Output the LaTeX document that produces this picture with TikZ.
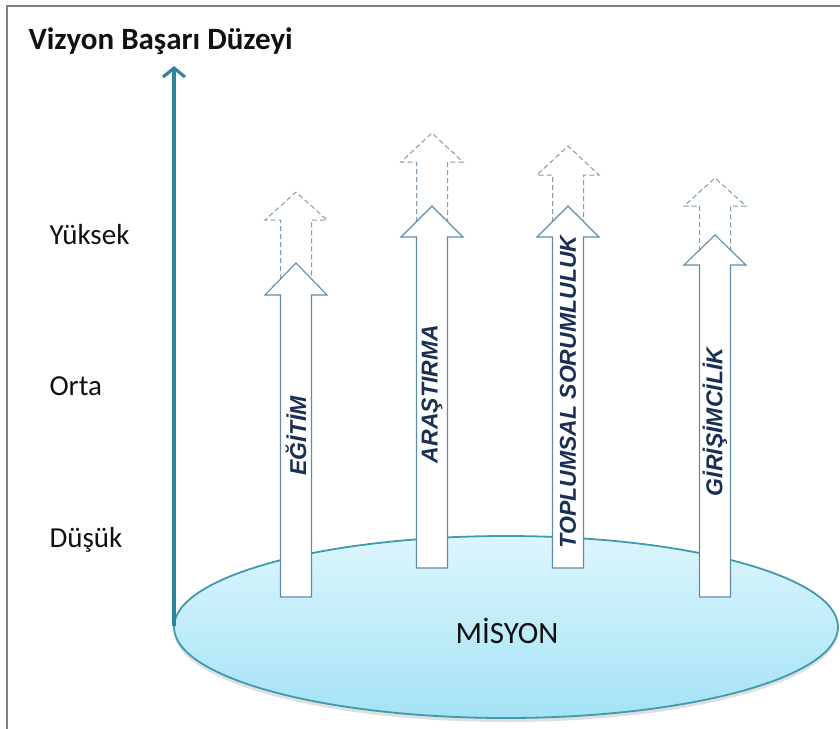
\documentclass[tikz,border=0pt]{standalone}
\usepackage{fontspec}
\setmainfont{Carlito}
\newfontfamily\barfont{Liberation Sans}
\usetikzlibrary{arrows.meta,shadows}
\definecolor{frame}{HTML}{808080}
\definecolor{axis}{HTML}{31849B}
\definecolor{rim}{HTML}{3F9AAF}
\definecolor{disctop}{HTML}{DDF5FC}
\definecolor{discbot}{HTML}{A3E3F5}
\definecolor{barline}{HTML}{5F8CA8}
\definecolor{ghost}{HTML}{7F9BB0}
\definecolor{bartext}{HTML}{1B2F55}
\definecolor{ink}{HTML}{111111}
\tikzset{
  frm/.style={draw=frame, line width=1.4pt},
  ax/.style={draw=axis, line width=3.2pt, -{Straight Barb[length=9pt,width=22pt]}},
  disc/.style={draw=rim, line width=1.8pt, top color=disctop, bottom color=discbot,
    drop shadow={shadow xshift=0pt, shadow yshift=-4pt, opacity=0.25, fill=gray}},
  bar/.style={draw=barline, fill=white, line width=1.1pt, line join=miter},
  ghostbar/.style={draw=ghost, dash pattern=on 5pt off 3pt, line width=1pt},
  lvl/.style={anchor=base west, text=ink, font=\fontsize{29}{29}\selectfont},
  ttl/.style={anchor=base west, text=ink, font=\bfseries\fontsize{31}{31}\selectfont},
  misl/.style={anchor=base, text=ink, font=\fontsize{31}{31}\selectfont},
  barlab/.style={rotate=90, text=bartext, font=\barfont\bfseries\itshape\fontsize{23}{23}\selectfont},
}
\begin{document}
\begin{tikzpicture}[x=1pt,y=-1pt]
  \useasboundingbox (0,0) rectangle (840,728);
  \draw[frm] (7,6) rectangle (850,740);

  \node[ttl] (title) at (25,49) {Vizyon Başarı Düzeyi};
  \node[lvl] (high) at (46,244) {Yüksek};
  \node[lvl] (mid) at (46,395) {Orta};
  \node[lvl] (low) at (46,547) {Düşük};

  % mission disc
  \draw[disc] (506,627) ellipse [x radius=332, y radius=91];
  \node[misl] (mission) at (507,643) {MİSYON};

  \coordinate (axbot) at (174,626);
  \coordinate (axtop) at (174,66);
  \draw[ax] (axbot) -- (axtop);

  % name/x/bottom/head/tip/ghost head/ghost tip/label y/text
  \foreach \nm/\cx/\yb/\yh/\yt/\gh/\gt/\ly/\txt in {
    egitim/296/597/295/263/220/192/436/EĞİTİM,
    arastirma/432/568/237/206/162/133/394/ARAŞTIRMA,
    toplum/568/568/237/206/175/146/392/TOPLUMSAL SORUMLULUK,
    girisim/715/597/265/235/206/178/422/GİRİŞİMCİLİK}
  {
    \draw[ghostbar] (\cx-15.5,\yt+16) -- (\cx-15.5,\gh) -- (\cx-31,\gh) -- (\cx,\gt)
      -- (\cx+31,\gh) -- (\cx+15.5,\gh) -- (\cx+15.5,\yt+16);
    \draw[bar] (\cx-15.5,\yb) -- (\cx-15.5,\yh) -- (\cx-31,\yh) -- (\cx,\yt)
      -- (\cx+31,\yh) -- (\cx+15.5,\yh) -- (\cx+15.5,\yb) -- cycle;
    \node[barlab] (\nm) at (\cx,\ly) {\txt};
  }
\end{tikzpicture}
\end{document}
